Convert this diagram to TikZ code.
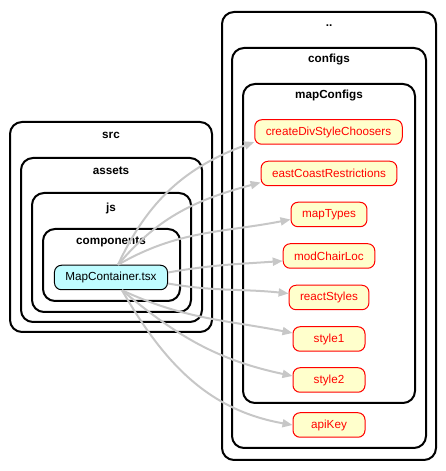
\documentclass[tikz,border=0pt]{standalone}
\usepackage{fontspec}
\setmainfont{Liberation Sans}
\usetikzlibrary{arrows.meta,positioning}
\definecolor{srcfill}{HTML}{BFFCFF}
\definecolor{depfill}{HTML}{FFFFCC}

\begin{document}
\begin{tikzpicture}[x=1pt,y=1pt,
  cluster/.style={draw, line width=2pt, rounded corners=12pt},
  clabel/.style={font=\fontsize{11.7}{14}\selectfont\bfseries},
  file/.style={draw=red, line width=1pt, fill=depfill, text=red, rounded corners=7pt,
    minimum width=72pt, minimum height=24.5pt, inner xsep=11pt,
    font=\fontsize{11.7}{14}\selectfont},
  dep/.style={draw=black!22, line width=2pt, -{Triangle[length=10pt,width=8pt]}}]
\useasboundingbox (0,0) rectangle (446,471);

% folders
\draw[cluster] (222,11) rectangle (436,459);
\node[clabel] (dotdot) at (329,445) {..};
\draw[cluster] (232,23) rectangle (426,423);
\node[clabel] (configs) at (329,411) {configs};
\draw[cluster] (243,68) rectangle (415,387);
\node[clabel] (mapconfigs) at (329,375) {mapConfigs};

\draw[cluster] (10,139) rectangle (212,349);
\node[clabel] (src) at (111,336) {src};
\draw[cluster] (21,149) rectangle (202,313);
\node[clabel] (assets) at (111,300) {assets};
\draw[cluster] (32,159) rectangle (191,278);
\node[clabel] (js) at (111,263) {js};
\draw[cluster] (43,170) rectangle (180,242);
\node[clabel] (components) at (111,229) {components};

% files
\node[file, draw=black, fill=srcfill, text=black] (mc) at (111,193.5) {MapContainer.tsx};
\node[file] (cdsc) at (328.5,339) {createDivStyleChoosers};
\node[file] (ecr) at (329,297.5) {eastCoastRestrictions};
\node[file] (mt) at (329,256.5) {mapTypes};
\node[file] (mcl) at (329,215) {modChairLoc};
\node[file] (rs) at (329,173.5) {reactStyles};
\node[file] (s1) at (329,132) {style1};
\node[file] (s2) at (329,91) {style2};
\node[file] (ak) at (329,46) {apiKey};

% imports
\draw[dep] ([xshift=7pt]mc.north) to[out=65,in=200] ([yshift=-10pt]cdsc.west);
\draw[dep] ([xshift=7pt]mc.north) to[out=50,in=195] ([yshift=-9pt]ecr.west);
\draw[dep] ([xshift=7pt]mc.north) to[out=30,in=191] ([yshift=-5pt]mt.west);
\draw[dep] ([yshift=5pt]mc.east) to[out=10,in=184] ([yshift=-5pt]mcl.west);
\draw[dep] ([yshift=-6pt]mc.east) to[out=-10,in=174] ([yshift=4pt]rs.west);
\draw[dep] ([xshift=11pt]mc.south) to[out=-25,in=169] ([yshift=6pt]s1.west);
\draw[dep] ([xshift=11pt]mc.south) to[out=-40,in=168] ([yshift=4pt]s2.west);
\draw[dep] ([xshift=11pt]mc.south) to[out=-60,in=170] (ak.west);
\end{tikzpicture}
\end{document}
